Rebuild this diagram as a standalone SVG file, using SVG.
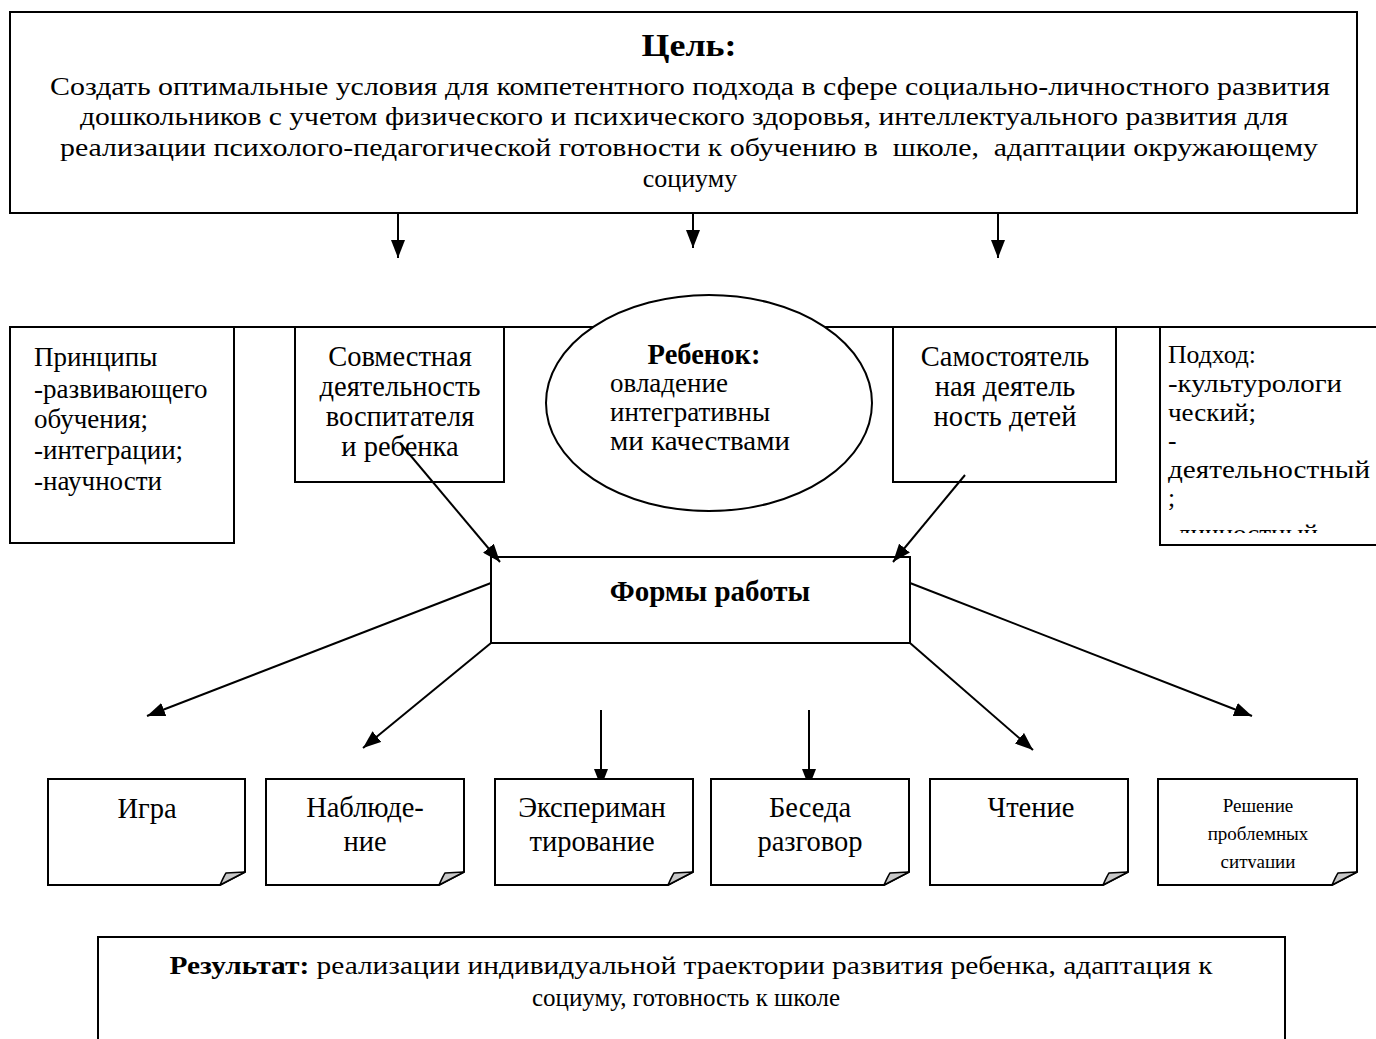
<svg xmlns="http://www.w3.org/2000/svg" width="1376" height="1039" viewBox="0 0 1376 1039">
<defs>
<style>
.t{font-family:"Liberation Serif","Times New Roman",serif;font-size:26px;fill:#000}
.s{font-size:28.5px}
.q{font-size:27px}
.p{font-size:25.5px}
.b{font-weight:bold}
.m{text-anchor:middle}
.box{fill:#fff;stroke:#000;stroke-width:2}
.ln{stroke:#000;stroke-width:2;fill:none}
.fold{fill:#c8c8c8;stroke:#000;stroke-width:1.5;stroke-linejoin:round}
</style>
<marker id="ah" viewBox="0 0 18 14" refX="18" refY="7" markerWidth="18" markerHeight="14" markerUnits="userSpaceOnUse" orient="auto">
<path d="M0,0 L18,7 L0,14 Z" fill="#000"/>
</marker>
<clipPath id="clipPodhod"><rect x="1160" y="327" width="216" height="206"/></clipPath>
<clipPath id="clipResh"><rect x="1158" y="779" width="200" height="89"/></clipPath>
</defs>
<rect width="1376" height="1039" fill="#fff"/>

<g id="goal">
<rect class="box" x="10" y="12" width="1347" height="201"/>
<text class="t b m" x="689" y="56" style="font-size:31px" textLength="95" lengthAdjust="spacingAndGlyphs">Цель:</text>
<text class="t m" x="690" y="95" textLength="1280" lengthAdjust="spacingAndGlyphs">Создать оптимальные условия для компетентного подхода в сфере социально-личностного развития</text>
<text class="t m" x="684" y="125" textLength="1208" lengthAdjust="spacingAndGlyphs">дошкольников с учетом физического и психического здоровья, интеллектуального развития для</text>
<text class="t m" x="689" y="156" xml:space="preserve" textLength="1258" lengthAdjust="spacingAndGlyphs">реализации психолого-педагогической готовности к обучению в  школе,  адаптации окружающему</text>
<text class="t m" x="690" y="187">социуму</text>
</g>

<g id="connectors">
<line class="ln" x1="10" y1="327" x2="1376" y2="327"/>
<line class="ln" x1="398" y1="214" x2="398" y2="258" marker-end="url(#ah)"/>
<line class="ln" x1="693" y1="214" x2="693" y2="248" marker-end="url(#ah)"/>
<line class="ln" x1="998" y1="214" x2="998" y2="258" marker-end="url(#ah)"/>
</g>

<g id="principles">
<rect class="box" x="10" y="327" width="224" height="216"/>
<text class="t q" x="34" y="366">Принципы</text>
<text class="t q" x="34" y="398">-развивающего</text>
<text class="t q" x="34" y="428">обучения;</text>
<text class="t q" x="34" y="459">-интеграции;</text>
<text class="t q" x="34" y="490">-научности</text>
</g>

<g id="joint">
<rect class="box" x="295" y="327" width="209" height="155"/>
<text class="t s m" x="400" y="366">Совместная</text>
<text class="t s m" x="400" y="396">деятельность</text>
<text class="t s m" x="400" y="426">воспитателя</text>
<text class="t s m" x="400" y="456">и ребенка</text>
</g>

<g id="child">
<ellipse class="box" cx="709" cy="403" rx="163" ry="108"/>
<text class="t s b m" x="704" y="364">Ребенок:</text>
<text class="t q" x="610" y="392">овладение</text>
<text class="t q" x="610" y="421">интегративны</text>
<text class="t q" x="610" y="450" textLength="180" lengthAdjust="spacingAndGlyphs">ми качествами</text>
</g>

<g id="independent">
<rect class="box" x="893" y="327" width="223" height="155"/>
<text class="t s m" x="1005" y="366">Самостоятель</text>
<text class="t s m" x="1005" y="396">ная деятель</text>
<text class="t s m" x="1005" y="426">ность детей</text>
</g>

<g id="approach">
<rect class="box" x="1160" y="327" width="225" height="218"/>
<g clip-path="url(#clipPodhod)">
<text class="t p" x="1168" y="363" textLength="88" lengthAdjust="spacingAndGlyphs">Подход:</text>
<text class="t p" x="1168" y="392" textLength="174" lengthAdjust="spacingAndGlyphs">-культурологи</text>
<text class="t p" x="1168" y="421" textLength="88" lengthAdjust="spacingAndGlyphs">ческий;</text>
<text class="t p" x="1168" y="449">-</text>
<text class="t p" x="1168" y="478" textLength="202" lengthAdjust="spacingAndGlyphs">деятельностный</text>
<text class="t p" x="1168" y="506">;</text>
<text class="t p" x="1168" y="542" textLength="150" lengthAdjust="spacingAndGlyphs">-личностный</text>
</g>
</g>

<g id="forms">
<rect class="box" x="491" y="557" width="419" height="86"/>
<text class="t b m" x="710" y="601" style="font-size:29px">Формы работы</text>
</g>

<g id="connectors2">
<line class="ln" x1="400" y1="443" x2="500" y2="562" marker-end="url(#ah)"/>
<line class="ln" x1="965" y1="475" x2="893" y2="562" marker-end="url(#ah)"/>
<line class="ln" x1="491" y1="583" x2="147" y2="716" marker-end="url(#ah)"/>
<line class="ln" x1="491" y1="643" x2="363" y2="748" marker-end="url(#ah)"/>
<line class="ln" x1="601" y1="710" x2="601" y2="787" marker-end="url(#ah)"/>
<line class="ln" x1="809" y1="710" x2="809" y2="787" marker-end="url(#ah)"/>
<line class="ln" x1="910" y1="643" x2="1033" y2="750" marker-end="url(#ah)"/>
<line class="ln" x1="910" y1="583" x2="1252" y2="716" marker-end="url(#ah)"/>
</g>

<g id="igra">
<path class="box" d="M48,779 H245 V872 L220,885 H48 Z"/>
<path class="fold" d="M220,885 Q224,876 226,873 L245,872 Z"/>
<text class="t s m" x="147" y="818">Игра</text>
</g>

<g id="nabl">
<path class="box" d="M266,779 H464 V872 L439,885 H266 Z"/>
<path class="fold" d="M439,885 Q443,876 445,873 L464,872 Z"/>
<text class="t s m" x="365" y="817">Наблюде-</text>
<text class="t s m" x="365" y="851">ние</text>
</g>

<g id="exp">
<path class="box" d="M495,779 H693 V872 L668,885 H495 Z"/>
<path class="fold" d="M668,885 Q672,876 674,873 L693,872 Z"/>
<text class="t s m" x="592" y="817">Экспериман</text>
<text class="t s m" x="592" y="851">тирование</text>
</g>

<g id="beseda">
<path class="box" d="M711,779 H909 V872 L884,885 H711 Z"/>
<path class="fold" d="M884,885 Q888,876 890,873 L909,872 Z"/>
<text class="t s m" x="810" y="817">Беседа</text>
<text class="t s m" x="810" y="851">разговор</text>
</g>

<g id="chtenie">
<path class="box" d="M930,779 H1128 V872 L1103,885 H930 Z"/>
<path class="fold" d="M1103,885 Q1107,876 1109,873 L1128,872 Z"/>
<text class="t s m" x="1031" y="817">Чтение</text>
</g>

<g id="reshenie">
<path class="box" d="M1158,779 H1357 V872 L1332,885 H1158 Z"/>
<path class="fold" d="M1332,885 Q1336,876 1338,873 L1357,872 Z"/>
<g clip-path="url(#clipResh)">
<text class="t m" x="1258" y="812" style="font-size:19px">Решение</text>
<text class="t m" x="1258" y="840" style="font-size:19px">проблемных</text>
<text class="t m" x="1258" y="868" style="font-size:19px">ситуации</text>
</g>
</g>

<g id="result">
<rect class="box" x="98" y="937" width="1187" height="110"/>
<text class="t m" x="691" y="974" style="font-size:25px" textLength="1043" lengthAdjust="spacingAndGlyphs"><tspan class="b">Результат:</tspan> реализации индивидуальной траектории развития ребенка, адаптация к</text>
<text class="t m" x="686" y="1006" style="font-size:25px">социуму, готовность к школе</text>
</g>
</svg>
